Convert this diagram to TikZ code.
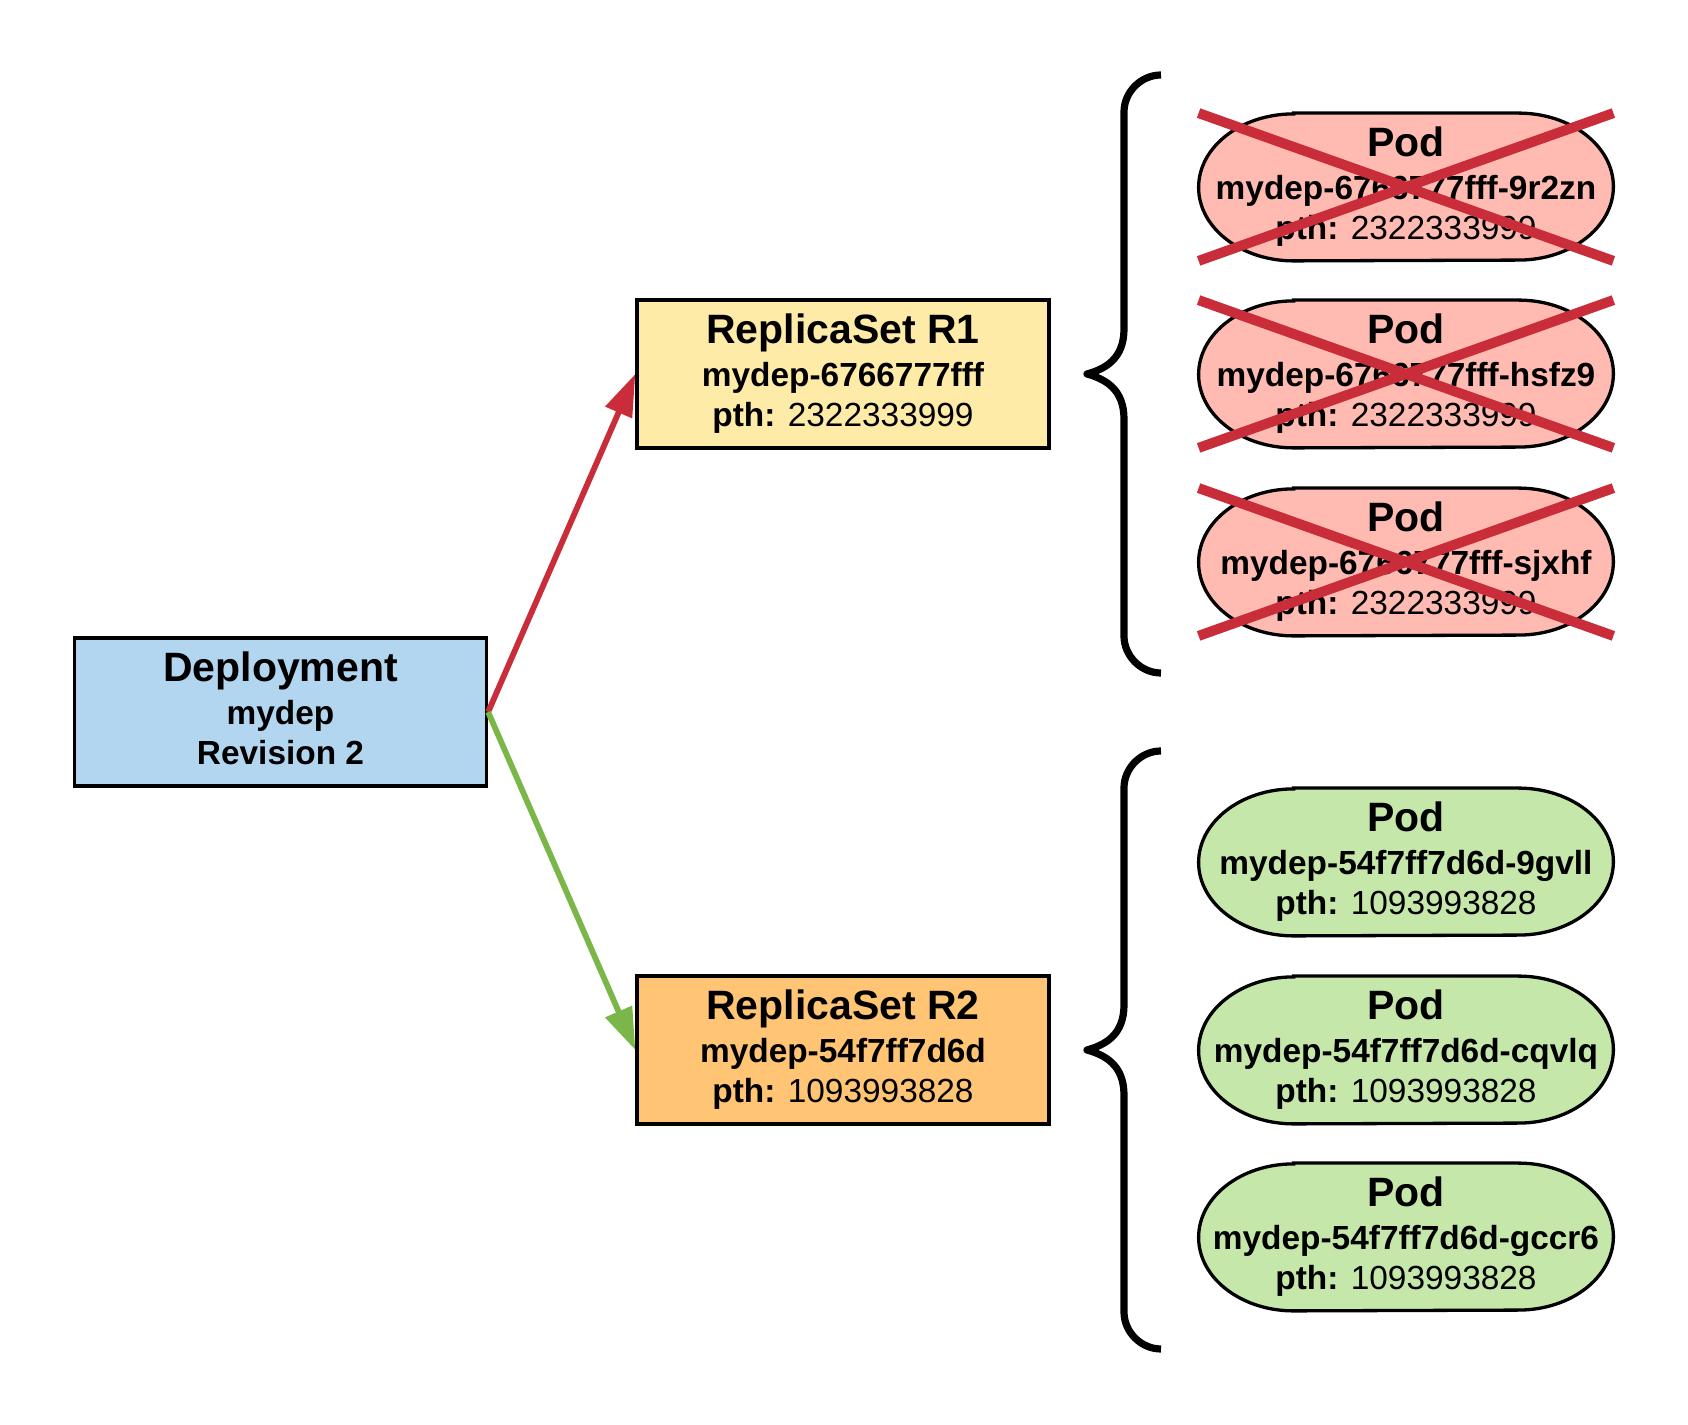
\documentclass[tikz,border=0pt]{standalone}
\usepackage{fontspec}
\setmainfont{Liberation Sans}
\usetikzlibrary{arrows.meta,backgrounds}

\definecolor{depblue}{HTML}{B2D6F0}
\definecolor{rsyellow}{HTML}{FFEBA8}
\definecolor{rsorange}{HTML}{FFC474}
\definecolor{podred}{HTML}{FFBBB1}
\definecolor{podgreen}{HTML}{C6E7AA}
\definecolor{killred}{HTML}{C92D39}
\definecolor{okgreen}{HTML}{7AB648}

\newcommand{\bigline}[1]{{\fontsize{20.5}{21}\selectfont #1}}

\tikzset{
  box/.style={draw=black, line width=1.65pt, minimum width=206pt, minimum height=74pt,
    inner sep=0pt, align=center, font=\fontsize{16.7}{20.3}\selectfont\bfseries},
  pod/.style={minimum width=207pt, minimum height=73.5pt, inner sep=0pt,
    align=center, font=\fontsize{16.7}{20.3}\selectfont\bfseries},
  podline/.style={draw=black, line width=1.65pt},
  cross/.style={draw=killred, line width=5pt},
  brace/.style={draw=black, line width=3.6pt, line join=round},
  link/.style={line width=2.9pt, -{Triangle[length=21pt,width=14pt]}}
}

\begin{document}
\begin{tikzpicture}[x=0.5pt,y=0.5pt]
    \useasboundingbox (0,0) rectangle (1688,1425);

    % deployment and replica sets
    \node[box, fill=depblue] (deploy) at (280.5,713) {\bigline{Deployment}\\[1pt] mydep\\ Revision 2\vphantom{p}};
    \node[box, fill=rsyellow] (rsone) at (843,1051) {\bigline{ReplicaSet R1}\\[1pt] mydep-6766777fff\\ pth: \textmd{2322333999}};
    \node[box, fill=rsorange] (rstwo) at (843,375) {\bigline{ReplicaSet R2}\\[1pt] mydep-54f7ff7d6d\\ pth: \textmd{1093993828}};

    % pods
    \foreach \name/\yy/\id/\pth in {podA/1238/6766777fff-9r2zn/2322333999,
        podB/1051/6766777fff-hsfz9/2322333999, podC/863/6766777fff-sjxhf/2322333999,
        podD/563/54f7ff7d6d-9gvll/1093993828, podE/375/54f7ff7d6d-cqvlq/1093993828,
        podF/188/54f7ff7d6d-gccr6/1093993828}
      \node[pod] (\name) at (1406,\yy) {\bigline{Pod}\\[1pt] mydep-\id\\ pth: \textmd{\pth}};

    \begin{scope}[on background layer]
      \foreach \name/\fillc in {podA/podred, podB/podred, podC/podred,
          podD/podgreen, podE/podgreen, podF/podgreen}
        \draw[podline, fill=\fillc] ([xshift=47.5pt]\name.north west) -- ([xshift=-47.5pt]\name.north east)
          arc[start angle=90, end angle=-90, x radius=47.5pt, y radius=36.75pt]
          -- ([xshift=47.5pt]\name.south west)
          arc[start angle=270, end angle=90, x radius=47.5pt, y radius=36.75pt] -- cycle;
    \end{scope}

    % old pods are gone
    \foreach \name in {podA,podB,podC} {
      \draw[cross] (\name.north west) -- (\name.south east);
      \draw[cross] (\name.south west) -- (\name.north east);
    }

    % braces
    \foreach \cy in {1051,375} {
      \begin{scope}[shift={(1087,\cy)}]
        \draw[brace] (74,299) .. controls (54,299) and (37,282) .. (37,262) -- (37,45)
          .. controls (37,15) and (18,5) .. (0,0)
          .. controls (18,-5) and (37,-15) .. (37,-45) -- (37,-262)
          .. controls (37,-282) and (54,-299) .. (74,-299);
      \end{scope}
    }

    \draw[link, killred] (deploy.east) -- (rsone.west);
    \draw[link, okgreen] (deploy.east) -- (rstwo.west);
\end{tikzpicture}
\end{document}
